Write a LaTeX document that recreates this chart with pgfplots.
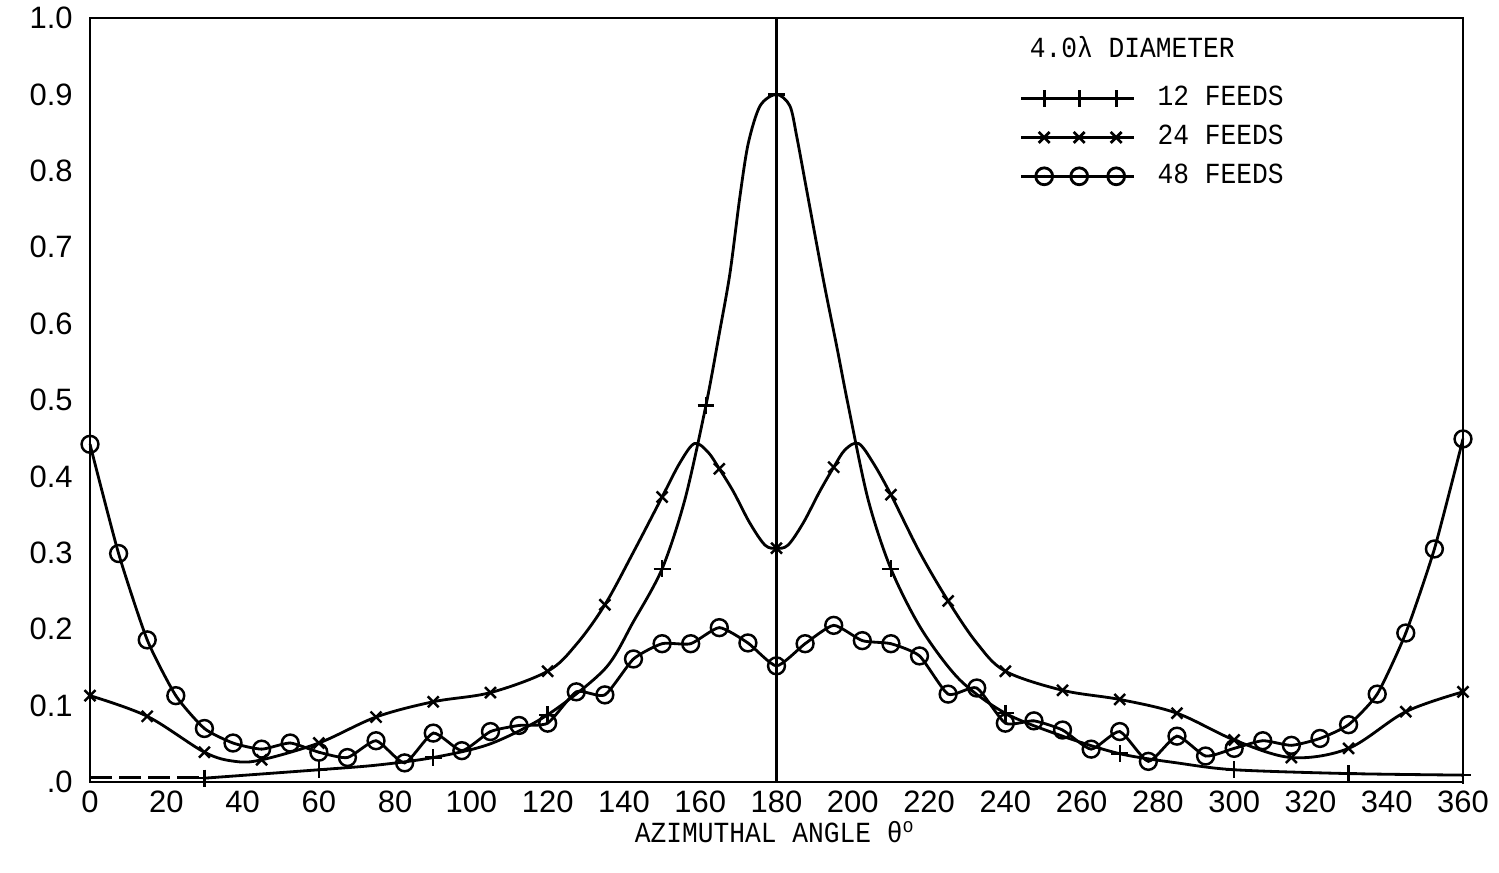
\documentclass[border=0pt]{standalone}
\usepackage{fontspec}
\setmainfont[FakeStretch=0.9]{Liberation Mono}
\newfontfamily\ticksf{Liberation Sans}
\usepackage{pgfplots}
\pgfplotsset{compat=1.18}

% circle with a dot in the middle, as on the original sheet
\pgfdeclareplotmark{odot}{%
  \pgfpathcircle{\pgfpointorigin}{\pgfplotmarksize}\pgfusepathqstroke
  \pgfpathcircle{\pgfpointorigin}{0.4pt}\pgfusepathqfill}

\begin{document}
\begin{tikzpicture}
\useasboundingbox (-0.90cm,-0.91cm) rectangle (14.09cm,7.82cm);
\begin{axis}[
    at={(0,0)}, anchor=south west,
    scale only axis,
    width=13.73cm, height=7.64cm,
    xmin=0, xmax=360, ymin=0, ymax=1,
    axis line style={line width=0.8pt},
    major tick length=0pt,
    xtick={0,20,40,60,80,100,120,140,160,180,200,220,240,260,280,300,320,340,360},
    xticklabels={0,20,40,60,80,100,120,140,160,180,200,220,240,260,280,300,320,340,360},
    ytick={0,0.1,0.2,0.3,0.4,0.5,0.6,0.7,0.8,0.9,1.0},
    yticklabels={.0,0.1,0.2,0.3,0.4,0.5,0.6,0.7,0.8,0.9,1.0},
    tick label style={font=\ticksf\fontsize{8.8}{10}\selectfont},
    yticklabel style={xshift=-0.05cm},
    xticklabel style={yshift=0.04cm},
    xlabel={AZIMUTHAL ANGLE θ\textsuperscript{o}},
    xlabel style={at={(axis description cs:0.499,0)}, anchor=center, yshift=-0.5cm,
                  font=\fontsize{8.3}{10}\selectfont},
    legend style={draw=none, fill=none, at={(rel axis cs:0.669,0.93)}, anchor=north west,
                  font=\fontsize{8.3}{10}\selectfont, row sep=0pt},
    legend cell align=left,
    legend image code/.code={%
      \draw[mark repeat=2, mark phase=2, #1] plot coordinates
        {(0cm,0cm)(0.23cm,0cm)(0.4cm,0cm)(0.58cm,0cm)(0.76cm,0cm)(0.95cm,0cm)(1.13cm,0cm)};
      \path (1.28cm,0cm);},
]

% vertical line at 180 degrees
\addplot[forget plot, line width=0.8pt] coordinates {(180,0) (180,1)};

% 12 feeds
\addplot[forget plot, line width=0.8pt, dash pattern=on 0.22cm off 0.07cm] coordinates {(0,0.006) (30,0.006)};
\addplot[forget plot, line width=0.8pt, smooth, tension=0.5] coordinates {
  (30,0.005) (60,0.016) (75,0.022) (90,0.032) (105,0.05) (120,0.088) (135,0.148)
  (142.5,0.21) (150,0.279) (156,0.37) (161.5,0.493) (165,0.587) (167.8,0.666)
  (170.4,0.766) (172.6,0.836) (175.7,0.885) (180,0.9) (183.5,0.885) (185.3,0.845)
  (187.9,0.775) (192.3,0.657) (195.8,0.57) (198.8,0.493) (204,0.37) (210,0.279)
  (218,0.2) (228,0.134) (240,0.09) (255,0.06) (270,0.037) (285,0.025) (300,0.016)
  (330,0.011) (360,0.009)
};
\addplot[forget plot, only marks, mark=+, mark size=2.4pt, line width=0.7pt] coordinates {
  (30,0.005) (60,0.016) (90,0.032) (120,0.088) (150,0.279) (161.5,0.493) (180,0.9)
  (210,0.279) (240,0.09) (270,0.037) (300,0.016) (330,0.011) (360,0.009)
};

% 24 feeds
\addplot[forget plot, line width=0.8pt, smooth, tension=0.55] coordinates {
  (0,0.113) (15,0.086) (30,0.039) (38,0.027) (45,0.029) (60,0.051) (75,0.085)
  (90,0.105) (105,0.117) (120,0.145) (127.5,0.18) (135,0.232) (142.5,0.301)
  (150,0.373) (154.7,0.418) (158.5,0.443) (162,0.432) (165,0.41) (168.7,0.38)
  (173,0.339) (177,0.31) (180,0.306) (183,0.31) (187,0.339) (191.3,0.38)
  (195,0.412) (198,0.435) (201.5,0.443) (205.3,0.418) (210,0.376) (217.5,0.301)
  (225,0.237) (232.5,0.182) (240,0.145) (255,0.120) (270,0.108) (285,0.090)
  (300,0.055) (315,0.032) (330,0.044) (345,0.092) (360,0.118)
};
\addplot[forget plot, only marks, mark=x, mark size=2.2pt, line width=0.7pt] coordinates {
  (0,0.113) (15,0.086) (30,0.039) (45,0.029) (60,0.051) (75,0.085) (90,0.105)
  (105,0.117) (120,0.145) (135,0.232) (150,0.373) (165,0.41) (180,0.306)
  (195,0.412) (210,0.376) (225,0.237) (240,0.145) (255,0.120) (270,0.108)
  (285,0.090) (300,0.055) (315,0.032) (330,0.044) (345,0.092) (360,0.118)
};

% 48 feeds
\addplot[forget plot, line width=0.8pt, smooth, tension=0.35, mark=odot, mark size=2.4pt,
         mark options={line width=0.7pt}] coordinates {
  (0,0.442) (7.5,0.299) (15,0.186) (22.5,0.113) (30,0.070) (37.5,0.051) (45,0.043)
  (52.5,0.051) (60,0.039) (67.5,0.032) (75,0.054) (82.5,0.025) (90,0.064)
  (97.5,0.041) (105,0.066) (112.5,0.074) (120,0.077) (127.5,0.118) (135,0.114)
  (142.5,0.161) (150,0.181) (157.5,0.181) (165,0.202) (172.5,0.182) (180,0.152)
  (187.5,0.181) (195,0.205) (202.5,0.185) (210,0.181) (217.5,0.165) (225,0.115)
  (232.5,0.123) (240,0.077) (247.5,0.080) (255,0.068) (262.5,0.043) (270,0.066)
  (277.5,0.027) (285,0.060) (292.5,0.034) (300,0.044) (307.5,0.054) (315,0.048)
  (322.5,0.057) (330,0.075) (337.5,0.115) (345,0.195) (352.5,0.305) (360,0.449)
};

\addlegendimage{line width=0.8pt, mark=+, mark size=2.4pt}
\addlegendentry{12 FEEDS}
\addlegendimage{line width=0.8pt, mark=x, mark size=2.2pt}
\addlegendentry{24 FEEDS}
\addlegendimage{line width=0.8pt, mark=odot, mark size=2.4pt}
\addlegendentry{48 FEEDS}

\node[anchor=west, font=\fontsize{8.3}{10}\selectfont] at (rel axis cs:0.6755,0.962) {4.0λ DIAMETER};
\end{axis}
\end{tikzpicture}
\end{document}
